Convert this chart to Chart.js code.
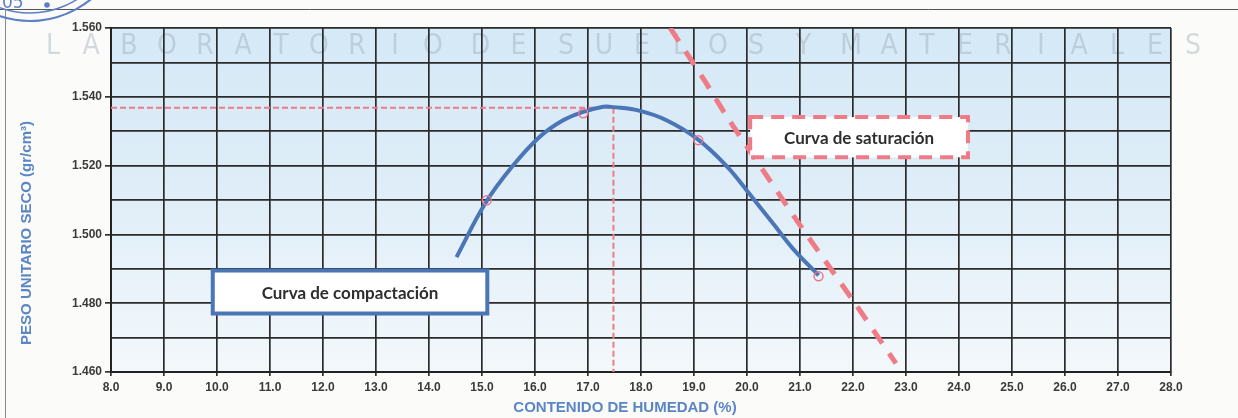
<!DOCTYPE html>
<html>
<head>
<meta charset="utf-8">
<script src="https://cdn.jsdelivr.net/npm/chart.js@4/dist/chart.umd.min.js"></script>
<style>
  html, body { margin: 0; padding: 0; background: #fbfbfa; }
  #wrap { width: 1238px; height: 418px; position: relative; }
</style>
</head>
<body>
<div id="wrap"><canvas id="c" width="1238" height="418"></canvas></div>
<script>
// ---- Data ----
const humedadCurva = [14.52, 15.06, 15.59, 16.09, 16.53, 16.91, 17.29, 17.48, 17.98, 18.48, 19.05, 19.62, 20.06, 20.50, 20.87, 21.35];
const pesoCurva    = [1.4934, 1.5090, 1.5201, 1.5284, 1.5332, 1.5356, 1.5371, 1.5370, 1.5359, 1.5332, 1.5279, 1.5198, 1.5115, 1.5030, 1.4958, 1.4881];

const humedadEnsayo = [15.09, 16.91, 19.08, 21.35];
const pesoEnsayo    = [1.5099, 1.5352, 1.5274, 1.4878];

const humedadSat = [18.55, 19.17, 19.64, 20.30, 21.00, 22.00, 22.81];
const pesoSat    = [1.5600, 1.5454, 1.5338, 1.5187, 1.5027, 1.4808, 1.4625];

const humedadOptima = 17.48;
const pesoMaximo = 1.5368;

const xMin = 8.0, xMax = 28.0, xStep = 1.0;
const yMin = 1.460, yMax = 1.560, yGridStep = 0.010, yLabelStep = 0.020;

const tituloX = 'CONTENIDO DE HUMEDAD (%)';
const tituloY = 'PESO UNITARIO SECO (gr/cm³)';
const etiquetaCompactacion = 'Curva de compactación';
const etiquetaSaturacion = 'Curva de saturación';
const marcaAgua = ['LABORATORIO', 'DE', 'SUELOS', 'Y', 'MATERIALES'];
const sello = '05';

// label boxes anchored in data coordinates: [x1, y1, x2, y2]
const cajaCompactacion = [9.92, 1.4895, 15.1, 1.4770];
const cajaSaturacion   = [20.06, 1.5341, 24.17, 1.5224];

// ---- Build datasets ----
const zip = (xs, ys) => xs.map((x, i) => ({ x, y: ys[i] }));

const pink = '#ef7b86';
const blue = '#4a75b7';

const bgPlugin = {
  id: 'bg',
  beforeDraw(chart) {
    const { ctx, chartArea: a } = chart;
    ctx.save();
    // page lines
    ctx.strokeStyle = '#555';
    ctx.lineWidth = 1;
    ctx.beginPath(); ctx.moveTo(0, 9.5); ctx.lineTo(1238, 9.5); ctx.stroke();
    ctx.strokeStyle = '#8a8a8a';
    ctx.beginPath(); ctx.moveTo(5.5, 9); ctx.lineTo(5.5, 418); ctx.stroke();
    // stamp fragment
    ctx.strokeStyle = '#5d7fc6';
    ctx.lineWidth = 2.2;
    ctx.beginPath(); ctx.arc(30, -75, 96, 0.22 * Math.PI, 0.85 * Math.PI); ctx.stroke();
    ctx.lineWidth = 1.5;
    ctx.beginPath(); ctx.arc(30, -75, 88, 0.25 * Math.PI, 0.8 * Math.PI); ctx.stroke();
    ctx.fillStyle = '#5d7fc6';
    ctx.font = '17px "DejaVu Sans", sans-serif';
    ctx.textBaseline = 'middle';
    ctx.fillText(sello, 2, 4);
    ctx.beginPath(); ctx.arc(47, 5, 2.8, 0, Math.PI * 2); ctx.fill();
    // plot background
    const g = ctx.createLinearGradient(0, a.top, 0, a.bottom);
    g.addColorStop(0, '#d5e9f6');
    g.addColorStop(0.45, '#deedf8');
    g.addColorStop(1, '#f3f8fb');
    ctx.fillStyle = g;
    ctx.fillRect(a.left, a.top, a.right - a.left, a.bottom - a.top);
    // watermark
    ctx.fillStyle = 'rgba(150,162,175,0.38)';
    ctx.font = '28px "Liberation Sans Narrow", "DejaVu Sans Condensed", sans-serif';
    ctx.textAlign = 'center';
    ctx.textBaseline = 'middle';
    let li = 0;
    marcaAgua.forEach((word, wi) => {
      word.split('').forEach(ch => {
        ctx.fillText(ch, 53 + li * 38 + wi * 9.5, 47);
        li++;
      });
    });
    ctx.restore();
  }
};

const labelsPlugin = {
  id: 'labels',
  afterDatasetsDraw(chart) {
    const { ctx, scales: { x, y }, chartArea: a } = chart;
    ctx.save();
    const box = (b, drawBorder, text, font) => {
      const l = x.getPixelForValue(b[0]), t = y.getPixelForValue(b[1]);
      const r = x.getPixelForValue(b[2]), btm = y.getPixelForValue(b[3]);
      ctx.fillStyle = '#ffffff';
      ctx.fillRect(l, t, r - l, btm - t);
      drawBorder(l, t, r - l, btm - t);
      ctx.fillStyle = '#2e2e2e';
      ctx.font = font;
      ctx.textAlign = 'center';
      ctx.textBaseline = 'middle';
      ctx.fillText(text, (l + r) / 2, (t + btm) / 2 + 1);
    };
    box(cajaCompactacion, (l, t, w, h) => {
      ctx.strokeStyle = blue; ctx.lineWidth = 4; ctx.setLineDash([]);
      ctx.strokeRect(l, t, w, h);
    }, etiquetaCompactacion, 'bold 17px Lato, "Open Sans", sans-serif');
    box(cajaSaturacion, (l, t, w, h) => {
      ctx.strokeStyle = pink; ctx.lineWidth = 4; ctx.setLineDash([13, 8]);
      ctx.strokeRect(l, t, w, h);
      ctx.setLineDash([]);
    }, etiquetaSaturacion, 'bold 17px Lato, "Open Sans", sans-serif');
    // axis titles
    ctx.fillStyle = '#5b86c6';
    ctx.font = 'bold 15px "Liberation Sans", Arial, sans-serif';
    ctx.textAlign = 'center';
    ctx.textBaseline = 'middle';
    ctx.fillText(tituloX, (a.left + a.right) / 2 - 16, 408);
    ctx.translate(27, 233);
    ctx.rotate(-Math.PI / 2);
    ctx.fillText(tituloY, 0, 0);
    ctx.restore();
  }
};

const isLabeled = v => Math.abs(Math.round((v - yMin) / yLabelStep) * yLabelStep - (v - yMin)) < 1e-6;

new Chart(document.getElementById('c'), {
  type: 'scatter',
  data: {
    datasets: [
      {
        label: 'Curva de saturación',
        data: zip(humedadSat, pesoSat),
        showLine: true,
        borderColor: pink,
        borderWidth: 5,
        borderDash: [16, 12],
        pointRadius: 0,
        tension: 0.3,
        order: 3
      },
      {
        label: 'Óptimo horizontal',
        data: [{ x: xMin, y: pesoMaximo }, { x: humedadOptima, y: pesoMaximo }],
        showLine: true,
        borderColor: pink,
        borderWidth: 2,
        borderDash: [6, 3],
        pointRadius: 0,
        order: 4
      },
      {
        label: 'Óptimo vertical',
        data: [{ x: humedadOptima, y: pesoMaximo }, { x: humedadOptima, y: yMin }],
        showLine: true,
        borderColor: pink,
        borderWidth: 2,
        borderDash: [6, 3],
        pointRadius: 0,
        order: 4
      },
      {
        label: 'Curva de compactación',
        data: zip(humedadCurva, pesoCurva),
        showLine: true,
        borderColor: blue,
        borderWidth: 4,
        pointRadius: 0,
        tension: 0.4,
        order: 2
      },
      {
        label: 'Ensayos',
        data: zip(humedadEnsayo, pesoEnsayo),
        showLine: false,
        pointRadius: 4.5,
        pointBorderWidth: 1.5,
        pointBorderColor: '#e9758e',
        pointBackgroundColor: 'rgba(0,0,0,0)',
        order: 1
      }
    ]
  },
  options: {
    responsive: false,
    animation: false,
    layout: { padding: { top: 28, right: 67, bottom: 0, left: 0 } },
    plugins: { legend: { display: false }, tooltip: { enabled: false } },
    scales: {
      x: {
        type: 'linear',
        min: xMin, max: xMax,
        afterFit: s => { s.height = 46; },
        ticks: {
          stepSize: xStep,
          color: '#3a3a3a',
          font: { family: '"Liberation Sans", Arial, sans-serif', weight: 'bold', size: 12 },
          padding: 4,
          maxRotation: 0,
          callback: v => Number(v).toFixed(1)
        },
        grid: { color: '#2b2b2b', lineWidth: 1.7, tickLength: 4, tickColor: '#333' },
        border: { color: '#222', width: 2 }
      },
      y: {
        type: 'linear',
        min: yMin, max: yMax,
        afterFit: s => { s.width = 111; },
        ticks: {
          stepSize: yGridStep,
          color: '#3a3a3a',
          font: { family: '"Liberation Sans", Arial, sans-serif', weight: 'bold', size: 12 },
          padding: 3,
          callback: v => isLabeled(v) ? Number(v).toFixed(3) : ''
        },
        grid: {
          color: '#2b2b2b', lineWidth: 1.7, tickLength: 6,
          tickColor: c => (c.tick && isLabeled(c.tick.value)) ? '#333' : 'rgba(0,0,0,0)'
        },
        border: { color: '#222', width: 2 }
      }
    }
  },
  plugins: [bgPlugin, labelsPlugin]
});
</script>
</body>
</html>
